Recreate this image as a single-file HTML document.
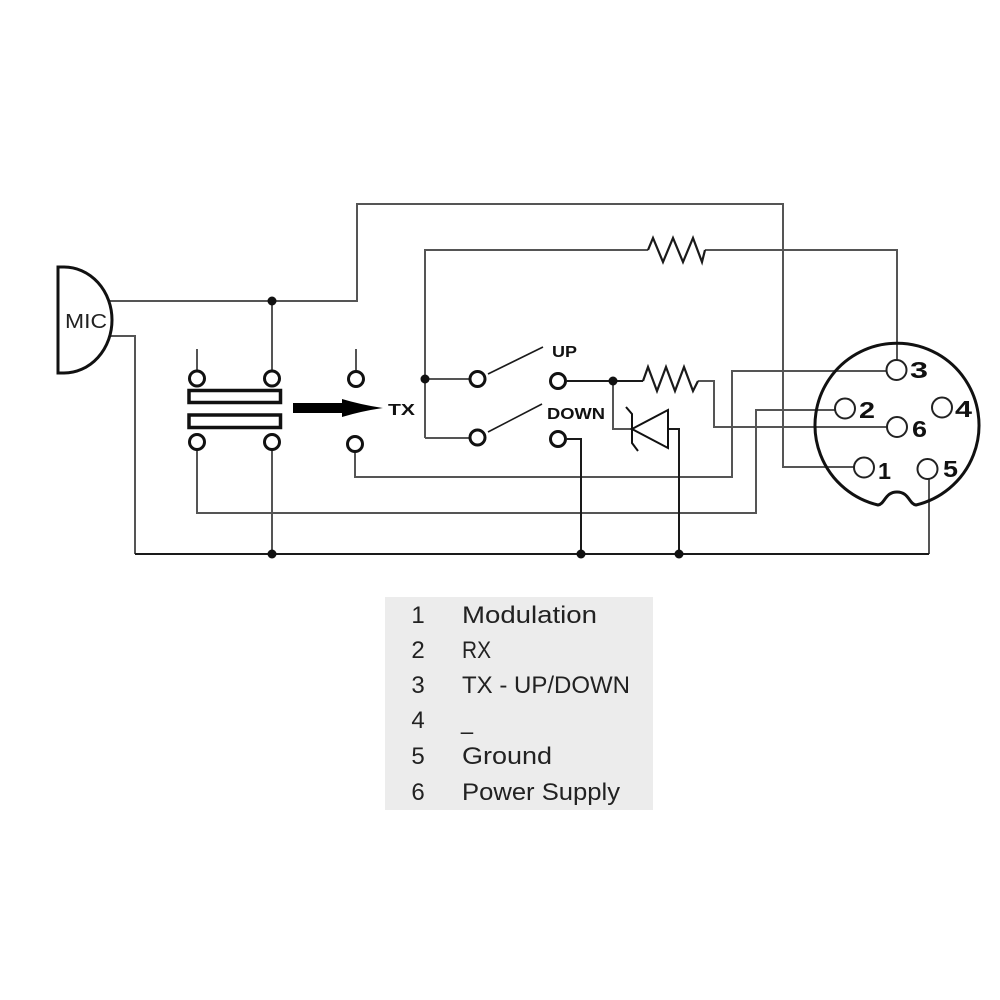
<!DOCTYPE html>
<html><head><meta charset="utf-8"><style>
html,body{margin:0;padding:0;background:#fff;}
svg{display:block;}
</style></head><body>
<svg width="1000" height="1000" viewBox="0 0 1000 1000" xmlns="http://www.w3.org/2000/svg">
<rect width="1000" height="1000" fill="#fff"/>

<!-- Legend box -->
<rect x="385" y="597" width="268" height="213" fill="#ececec"/>
<g font-family="Liberation Sans, sans-serif" font-size="24" fill="#222">
  <text x="418" y="623" text-anchor="middle">1</text>
  <text x="418" y="658" text-anchor="middle">2</text>
  <text x="418" y="693" text-anchor="middle">3</text>
  <text x="418" y="728" text-anchor="middle">4</text>
  <text x="418" y="764" text-anchor="middle">5</text>
  <text x="418" y="800" text-anchor="middle">6</text>
  <text x="462" y="623" textLength="135" lengthAdjust="spacingAndGlyphs">Modulation</text>
  <text x="462" y="658" textLength="29" lengthAdjust="spacingAndGlyphs">RX</text>
  <text x="462" y="693" textLength="168" lengthAdjust="spacingAndGlyphs">TX - UP/DOWN</text>
  <text x="461" y="729" textLength="12" lengthAdjust="spacingAndGlyphs">_</text>
  <text x="462" y="764" textLength="90" lengthAdjust="spacingAndGlyphs">Ground</text>
  <text x="462" y="800" textLength="158" lengthAdjust="spacingAndGlyphs">Power Supply</text>
</g>

<!-- thin gray wires -->
<g fill="none" stroke="#555" stroke-width="2">
  <polyline points="109,301 357,301 357,204 783,204 783,467 854,467"/>
  <line x1="272" y1="301" x2="272" y2="370"/>
  <polyline points="109,336 135,336 135,554"/>
  <line x1="197" y1="349" x2="197" y2="370"/>
  <line x1="356" y1="349" x2="356" y2="371"/>
  <polyline points="197,450 197,513 756,513 756,410 835,410"/>
  <line x1="272" y1="450" x2="272" y2="554"/>
  <polyline points="355,452 355,477 732,477 732,371 886,371"/>
  <polyline points="425,438 425,250 648,250"/>
  <polyline points="705,250 897,250 897,360"/>
  <line x1="425" y1="379" x2="469" y2="379"/>
  <line x1="425" y1="438" x2="469" y2="438"/>
  <polyline points="698,381 714,381 714,427 887,427"/>
  <polyline points="613,381 613,429 632,429"/>
  <polyline points="929,479 929,554"/>
</g>

<!-- darker wires -->
<g fill="none" stroke="#1a1a1a" stroke-width="2">
  <line x1="135" y1="554" x2="929" y2="554"/>
  <polyline points="567,439 581,439 581,554"/>
  <polyline points="668,429 679,429 679,554"/>
  <line x1="567" y1="381" x2="643" y2="381"/>
  <!-- resistors -->
  <polyline points="648,250 653,238 663,262 673,238 683,262 693,238 702,262 705,250" stroke-width="2.2"/>
  <polyline points="643,381 648,367 657,391 666,367 675,391 684,367 693,391 698,381" stroke-width="2.2"/>
  <!-- switch blades -->
  <line x1="488" y1="374" x2="543" y2="347" stroke-width="1.6"/>
  <line x1="488" y1="432" x2="542" y2="404" stroke-width="1.6"/>
</g>

<!-- junction dots -->
<g fill="#111">
  <circle cx="272" cy="301" r="4.5"/>
  <circle cx="272" cy="554" r="4.5"/>
  <circle cx="425" cy="379" r="4.5"/>
  <circle cx="613" cy="381" r="4.5"/>
  <circle cx="581" cy="554" r="4.5"/>
  <circle cx="679" cy="554" r="4.5"/>
</g>

<!-- MIC -->
<path d="M58,267 L64,267 A48,53 0 0 1 64,373 L58,373 Z" fill="#fff" stroke="#111" stroke-width="3"/>
<text x="65" y="328" font-family="Liberation Sans, sans-serif" font-size="20" fill="#222" textLength="42" lengthAdjust="spacingAndGlyphs">MIC</text>

<!-- switch block -->
<g fill="#fff" stroke="#111" stroke-width="3">
  <circle cx="197" cy="378.5" r="7.5"/>
  <circle cx="272" cy="378.5" r="7.5"/>
  <circle cx="197" cy="442" r="7.5"/>
  <circle cx="272" cy="442" r="7.5"/>
  <circle cx="356" cy="379" r="7.5"/>
  <circle cx="355" cy="444" r="7.5"/>
  <rect x="189" y="390.5" width="91.5" height="12" stroke-width="3.5"/>
  <rect x="189" y="415" width="91.5" height="12.5" stroke-width="3.5"/>
  <circle cx="477.5" cy="379" r="7.5"/>
  <circle cx="558" cy="381" r="7.5"/>
  <circle cx="477.5" cy="437.5" r="7.5"/>
  <circle cx="558" cy="439" r="7.5"/>
</g>

<!-- arrow -->
<rect x="293" y="403" width="52" height="10" fill="#000"/>
<path d="M342,399 Q362,405 383,408 Q362,411 342,417 Z" fill="#000"/>
<g font-family="Liberation Sans, sans-serif" font-weight="bold" fill="#111">
  <text x="388" y="415" font-size="16" textLength="27" lengthAdjust="spacingAndGlyphs">TX</text>
  <text x="552" y="357" font-size="16" textLength="25" lengthAdjust="spacingAndGlyphs">UP</text>
  <text x="547" y="419" font-size="16" textLength="58" lengthAdjust="spacingAndGlyphs">DOWN</text>
</g>

<!-- zener -->
<g fill="#fff" stroke="#111" stroke-width="2">
  <path d="M668,410 L632,429 L668,448 Z"/>
  <path d="M626,407 L632,414 L632,443 L638,451" fill="none"/>
</g>

<!-- DIN connector -->
<path d="M916,505 A82,82 0 1 0 878,505 C885,504 885,492 897,492 C909,492 909,504 916,505 Z" fill="none" stroke="#111" stroke-width="3"/>
<g fill="#fff" stroke="#222" stroke-width="2">
  <circle cx="896.5" cy="370" r="10"/>
  <circle cx="845" cy="408.5" r="10"/>
  <circle cx="942" cy="407.5" r="10"/>
  <circle cx="897" cy="427" r="10"/>
  <circle cx="864" cy="467.5" r="10"/>
  <circle cx="927.5" cy="469" r="10"/>
</g>
<g font-family="Liberation Sans, sans-serif" font-weight="bold" font-size="23" fill="#111">
  <text x="910" y="378" textLength="18" lengthAdjust="spacingAndGlyphs">3</text>
  <text x="859" y="418" textLength="16" lengthAdjust="spacingAndGlyphs">2</text>
  <text x="955" y="417" textLength="17" lengthAdjust="spacingAndGlyphs">4</text>
  <text x="912" y="437" textLength="15" lengthAdjust="spacingAndGlyphs">6</text>
  <text x="878" y="479" textLength="13" lengthAdjust="spacingAndGlyphs">1</text>
  <text x="943" y="477" textLength="15" lengthAdjust="spacingAndGlyphs">5</text>
</g>
</svg>
</body></html>
